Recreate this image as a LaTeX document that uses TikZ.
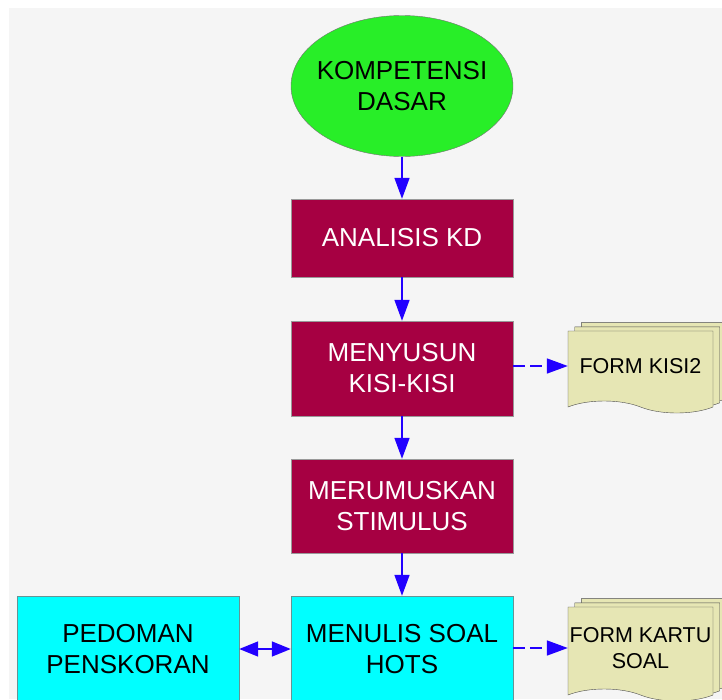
\documentclass[tikz,border=0pt]{standalone}
\usepackage{fontspec}
\setmainfont{Liberation Sans}
\usetikzlibrary{arrows.meta,shapes.geometric,shapes.symbols,shadows}
\definecolor{kdgreen}{RGB}{40,238,40}
\definecolor{kdmaroon}{RGB}{166,0,66}
\definecolor{kdcyan}{RGB}{0,255,255}
\definecolor{kdpaper}{RGB}{230,230,180}
\definecolor{kdblue}{RGB}{34,0,255}
\definecolor{kdback}{RGB}{245,245,245}
\begin{document}
\begin{tikzpicture}[x=1pt, y=-1pt,
    start/.style={ellipse, draw=black!55, fill=kdgreen, minimum width=222pt, minimum height=141pt, inner xsep=-8pt, inner ysep=0pt, align=center, font=\fontsize{26}{31}\selectfont},
    stage/.style={rectangle, draw=black!40, fill=kdmaroon, text=white, minimum width=222pt, align=center, font=\fontsize{26}{31}\selectfont},
    output/.style={rectangle, draw=teal!60!black!60, fill=kdcyan, minimum width=222pt, minimum height=106pt, align=center, font=\fontsize{26}{31}\selectfont},
    paper/.style={tape, tape bend top=none, tape bend bottom=out and in, tape bend height=12pt, draw=black!70, fill=kdpaper, minimum width=145pt, align=center, inner sep=0pt, font=\fontsize{21.5}{26}\selectfont,
        copy shadow={shadow xshift=13.4pt, shadow yshift=8.4pt, draw=black!70, fill=kdpaper},
        copy shadow={shadow xshift=6.7pt, shadow yshift=4.2pt, draw=black!70, fill=kdpaper}},
    arrow/.style={-{Triangle[length=21pt, width=15pt]}, kdblue, line width=1.6pt},
    dasharrow/.style={arrow, dash pattern=on 12pt off 5pt},
    twoarrow/.style={{Triangle[length=19pt, width=15pt]}-{Triangle[length=19pt, width=15pt]}, kdblue, line width=1.6pt}
]
    % Background
    \useasboundingbox (0,0) rectangle (722,699);
    \clip (0,0) rectangle (722,699);
    \fill[kdback] (9,8) rectangle (722,699);

    % Main flow
    \node[start] (kd) at (402,86) {KOMPETENSI\\DASAR};
    \node[stage, minimum height=78pt] (analisis) at (402,238) {ANALISIS KD};
    \node[stage, minimum height=95pt] (kisi) at (402,368.5) {MENYUSUN\\KISI-KISI};
    \node[stage, minimum height=94pt] (stimulus) at (402,506) {MERUMUSKAN\\STIMULUS};
    \node[output] (soal) at (402,649) {MENULIS SOAL\\HOTS};
    \node[output] (pedoman) at (128,649) {PEDOMAN\\PENSKORAN};

    % Forms
    \node[paper, minimum height=82pt] (formkisi) at (640.5,366) {FORM KISI2};
    \node[paper, minimum height=94pt] (formkartu) at (640.5,648) {FORM KARTU\\SOAL};

    % Arrows
    \draw[arrow] (kd) -- (analisis);
    \draw[arrow] (analisis) -- (kisi);
    \draw[arrow] (kisi) -- (stimulus);
    \draw[arrow] (stimulus) -- (soal);
    \draw[dasharrow] (kisi.east |- formkisi.west) -- (formkisi.west);
    \draw[dasharrow] (soal.east |- formkartu.west) -- (formkartu.west);
    \draw[twoarrow] (pedoman) -- (soal);
\end{tikzpicture}
\end{document}
